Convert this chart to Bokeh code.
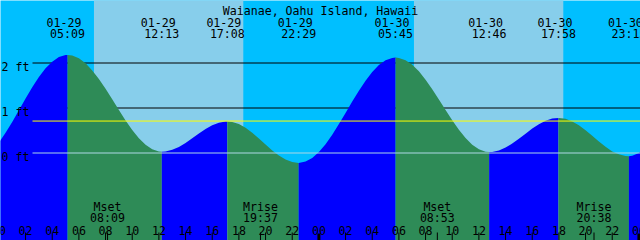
from bokeh.plotting import figure
from bokeh.models import Range1d, ColumnDataSource
from bokeh.core.properties import value
from bokeh.embed import file_html
from bokeh.resources import INLINE

# ---------------- data ----------------
title_text = "Waianae, Oahu Island, Hawaii"

# tide extrema (hours counted from 01-29 00:00)
event_dates = ["01-29", "01-29", "01-29", "01-29", "01-30", "01-30", "01-30", "01-30"]
event_clock = ["05:09", "12:13", "17:08", "22:29", "05:45", "12:46", "17:58", "23:15"]
event_hours = [5.15, 12.217, 17.133, 22.483, 29.75, 36.767, 41.967, 47.25]
event_feet = [2.18, 0.03, 0.70, -0.22, 2.12, 0.02, 0.78, -0.07]

# tide curve (hours, feet), half-hourly plus the extrema
curve_hours = [0, 0.5, 1, 1.5, 2, 2.5, 3, 3.5, 4, 4.5, 5, 5.15, 5.5, 6, 6.5, 7, 7.5, 8, 8.5, 9, 9.5,
               10, 10.5, 11, 11.5, 12, 12.217, 12.5, 13, 13.5, 14, 14.5, 15, 15.5, 16, 16.5, 17, 17.133,
               17.5, 18, 18.5, 19, 19.5, 20, 20.5, 21, 21.5, 22, 22.483, 23, 23.5, 24, 24.5, 25, 25.5,
               26, 26.5, 27, 27.5, 28, 28.5, 29, 29.5, 29.75, 30, 30.5, 31, 31.5, 32, 32.5, 33, 33.5,
               34, 34.5, 35, 35.5, 36, 36.5, 36.767, 37, 37.5, 38, 38.5, 39, 39.5, 40, 40.5, 41, 41.5,
               41.967, 42, 42.5, 43, 43.5, 44, 44.5, 45, 45.5, 46, 46.5, 47, 47.25, 47.5, 48, 48.5, 49]
curve_feet = [0.23, 0.449, 0.69, 0.951, 1.21, 1.46, 1.69, 1.881, 2.03, 2.132, 2.177, 2.18, 2.167, 2.104,
              1.992, 1.836, 1.645, 1.426, 1.193, 0.954, 0.723,
              0.512, 0.327, 0.183, 0.084, 0.035, 0.03, 0.0355, 0.071, 0.136, 0.225, 0.328, 0.434, 0.533,
              0.616, 0.673, 0.699, 0.70,
              0.689, 0.642, 0.56, 0.45, 0.323, 0.188, 0.058, -0.057, -0.146, -0.202, -0.22, -0.191, -0.109,
              0.023, 0.197, 0.407, 0.642,
              0.891, 1.143, 1.386, 1.608, 1.802, 1.955, 2.059, 2.113, 2.12, 2.113, 2.061, 1.96, 1.814, 1.63,
              1.419, 1.191, 0.956,
              0.727, 0.516, 0.331, 0.183, 0.081, 0.028, 0.02, 0.024, 0.057, 0.121, 0.21, 0.317, 0.43, 0.542,
              0.64, 0.717, 0.765,
              0.78, 0.78, 0.759, 0.702, 0.616, 0.506, 0.382, 0.257, 0.14, 0.032, -0.029, -0.065, -0.07, -0.062,
              0.0, 0.122, 0.30]

# daylight
sunrise_hours = [7.13, 31.13]
sunset_hours = [18.33, 42.33]

# moon events
moon_names = ["Mset", "Mrise", "Mset", "Mrise"]
moon_clock = ["08:09", "19:37", "08:53", "20:38"]
moon_hours = [8.15, 19.617, 32.883, 44.633]

# level lines
level_labels = ["2 ft", "1 ft", "0 ft"]
level_feet = [2, 1, 0]
mean_level_feet = 0.71

# hour axis
hour_ticks = [0, 2, 4, 6, 8, 10, 12, 14, 16, 18, 20, 22, 24, 26, 28, 30, 32, 34, 36, 38, 40, 42, 44, 46, 48]
hour_tick_labels = ["00", "02", "04", "06", "08", "10", "12", "14", "16", "18", "20", "22",
                    "00", "02", "04", "06", "08", "10", "12", "14", "16", "18", "20", "22", "00"]
midnight_ticks = [24, 48]

# ---------------- layout ----------------
W, H = 640, 240
H0 = 0.12
PX_PER_HOUR = W / 48.0
PX_PER_FT = 45.0
Y_TOP = 2 + 62.5 / PX_PER_FT


def xd(px):
    return H0 + px / PX_PER_HOUR


def yd(px):
    return Y_TOP - px / PX_PER_FT


FONT = value("DejaVu Sans Mono")
FSIZE = "11.6px"
NIGHT = "#00BFFF"
DAY = "#87CEEB"
RISE = "#0000FF"
FALL = "#2E8B57"

p = figure(width=W, height=H, x_range=Range1d(xd(0), xd(W)), y_range=Range1d(yd(H), yd(0)),
           output_backend="svg", toolbar_location=None, x_axis_type=None, y_axis_type=None,
           min_border=0, min_border_left=0, min_border_right=0, min_border_top=0, min_border_bottom=0,
           background_fill_color=NIGHT, border_fill_color=NIGHT, outline_line_color=None)

# daylight bands
p.quad(left=sunrise_hours, right=sunset_hours, top=yd(-5), bottom=yd(H + 5),
       fill_color=DAY, line_color=None)

# black level lines (under the water)
p.segment(x0=[xd(32)] * 2, x1=[xd(W + 5)] * 2, y0=level_feet[:2], y1=level_feet[:2],
          line_color="black", line_width=1)

# water fill: blue while rising, green while falling
bounds = [curve_hours[0]] + event_hours + [curve_hours[-1]]
for a, b in zip(bounds[:-1], bounds[1:]):
    xs = [t for t in curve_hours if a <= t <= b]
    ys = [f for t, f in zip(curve_hours, curve_feet) if a <= t <= b]
    rising = ys[-1] > ys[0]
    p.varea(x=xs, y1=[yd(H + 5)] * len(xs), y2=ys, fill_color=RISE if rising else FALL)

# zero line and mean level line (over the water)
p.segment(x0=[xd(32)], x1=[xd(W + 5)], y0=[level_feet[2]], y1=[level_feet[2]],
          line_color="#ADD8E6", line_width=1)
p.segment(x0=[xd(32)], x1=[xd(W + 5)], y0=[mean_level_feet], y1=[mean_level_feet],
          line_color="#FFFF00", line_width=1)

# level labels
p.text(x=[xd(1)] * 3, y=[f - 3.7 / PX_PER_FT for f in level_feet], text=level_labels,
       text_font=FONT, text_font_size=FSIZE, text_align="left", text_baseline="alphabetic",
       text_color="black")

# title
p.text(x=[xd(W / 2)], y=[yd(10)], text=[title_text], text_font=FONT, text_font_size=FSIZE,
       text_align="center", text_baseline="alphabetic", text_color="black")

# tide event labels
ev = ColumnDataSource(dict(t=event_hours, d=event_dates, c=event_clock))
p.text(x="t", y=yd(21.7), text="d", source=ev, x_offset=-3.5, text_font=FONT, text_font_size=FSIZE,
       text_align="center", text_baseline="alphabetic", text_color="black")
p.text(x="t", y=yd(33.3), text="c", source=ev, text_font=FONT, text_font_size=FSIZE,
       text_align="center", text_baseline="alphabetic", text_color="black")

# moon labels
mv = ColumnDataSource(dict(t=moon_hours, n=moon_names, c=moon_clock))
p.text(x="t", y=yd(206), text="n", source=mv, text_font=FONT, text_font_size=FSIZE,
       text_align="center", text_baseline="alphabetic", text_color="black")
p.text(x="t", y=yd(217.7), text="c", source=mv, text_font=FONT, text_font_size=FSIZE,
       text_align="center", text_baseline="alphabetic", text_color="black")

# hour labels and ticks
p.text(x=hour_ticks, y=[yd(230)] * len(hour_ticks), text=hour_tick_labels, text_font=FONT,
       text_font_size=FSIZE, text_align="center", text_baseline="alphabetic", text_color="black")
normal = [h for h in hour_ticks if h not in midnight_ticks]
p.segment(x0=normal, x1=normal, y0=[yd(232)] * len(normal), y1=[yd(H + 2)] * len(normal),
          line_color="black", line_width=1)
p.segment(x0=midnight_ticks, x1=midnight_ticks, y0=[yd(233)] * 2, y1=[yd(H + 2)] * 2,
          line_color="black", line_width=3)
p.segment(x0=moon_hours, x1=moon_hours, y0=[yd(232)] * len(moon_hours), y1=[yd(H + 2)] * len(moon_hours),
          line_color="black", line_width=1)

open("out.html", "w").write(file_html(p, INLINE))
